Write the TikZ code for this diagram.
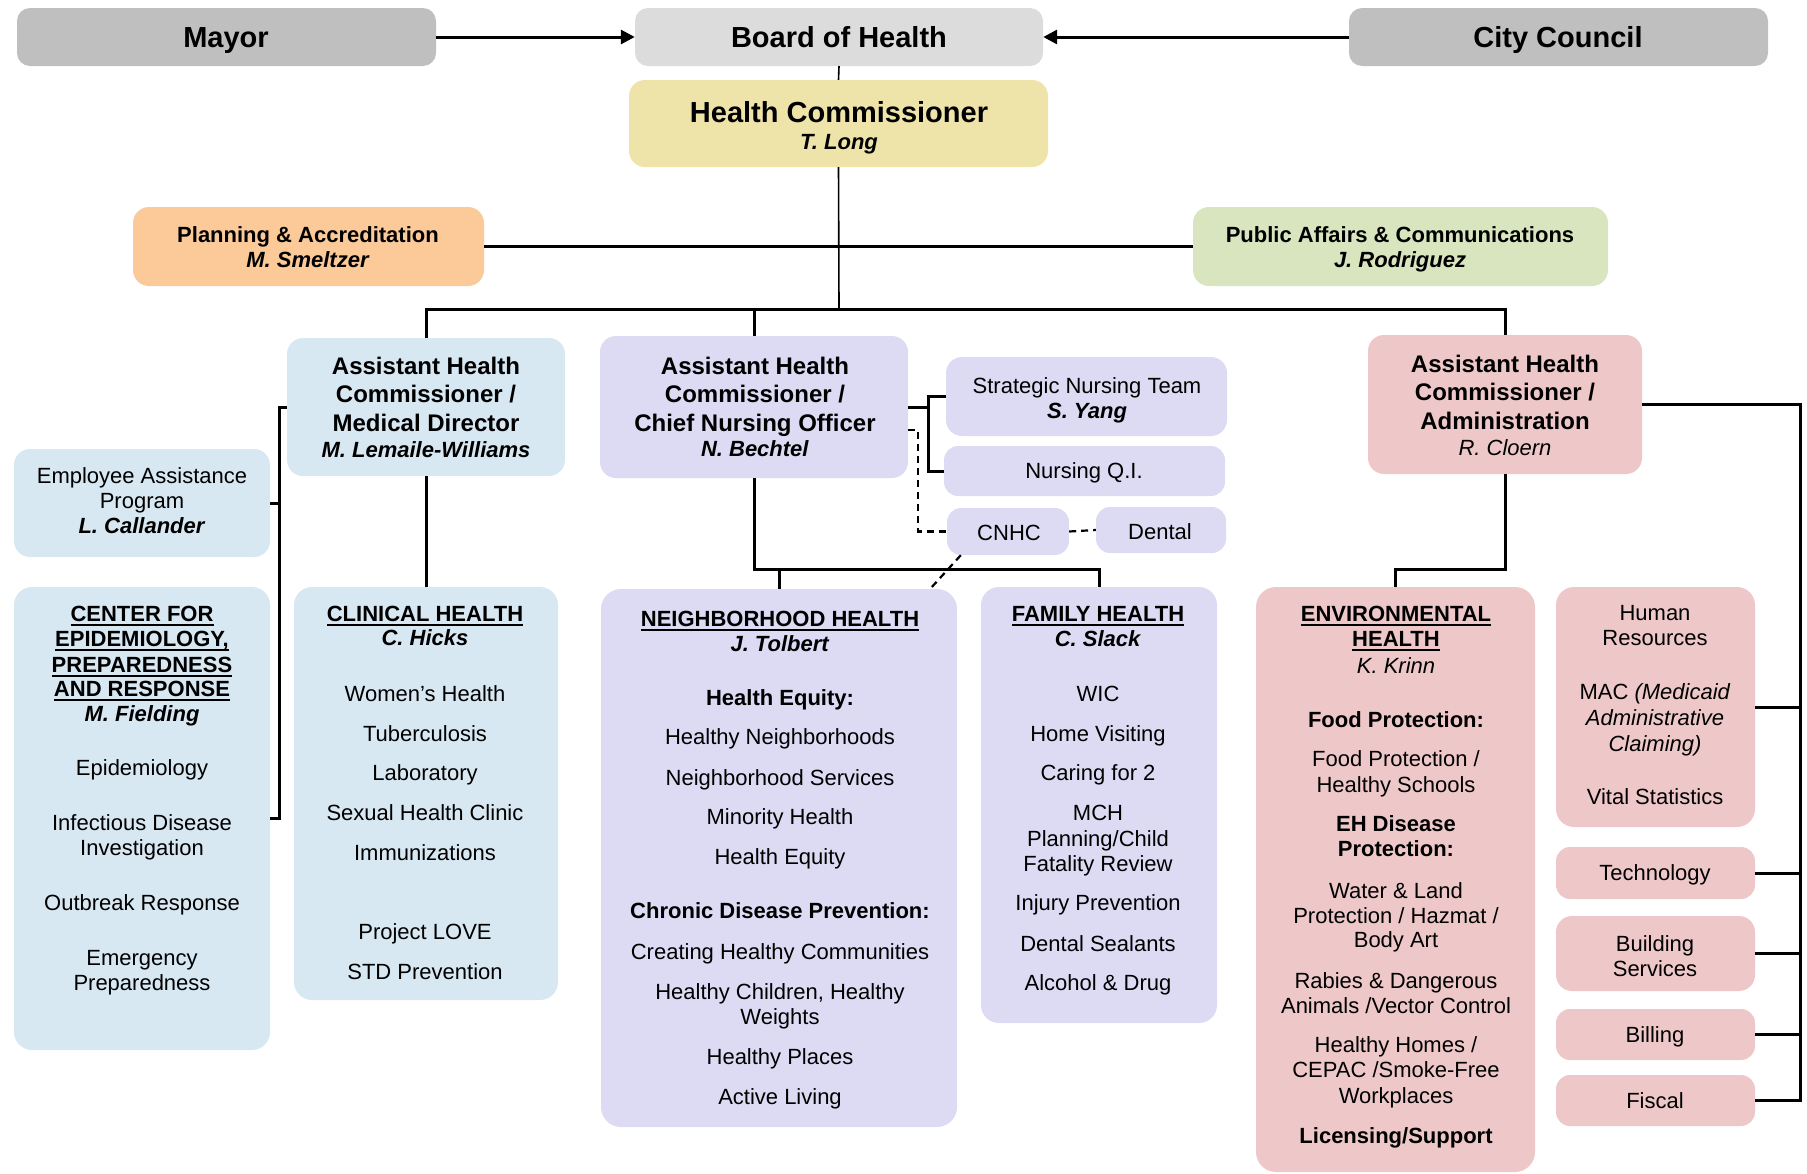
\documentclass[tikz,border=0pt]{standalone}
\usepackage{fontspec}
\setmainfont{Liberation Sans}
\usetikzlibrary{arrows.meta}
\definecolor{cgray}{HTML}{BFBFBF}
\definecolor{clgray}{HTML}{DCDCDC}
\definecolor{cyellow}{HTML}{EEE4A9}
\definecolor{corange}{HTML}{FCCA98}
\definecolor{cgreen}{HTML}{D9E5BF}
\definecolor{cblue}{HTML}{D8E8F2}
\definecolor{clav}{HTML}{DDDBF3}
\definecolor{cpink}{HTML}{EEC8C9}
\newsavebox\ulbox
\newcommand\ul[1]{\sbox\ulbox{#1}\rlap{\vrule height -2.6pt depth 4.6pt width \wd\ulbox}\usebox\ulbox}
\newcommand\bi[1]{\textbf{\textit{#1}}}
\newcommand\placelines[3]{%
  \foreach \yy/\ll [count=\ii] in {#3} {\node[tx] (#1-\ii) at (#2,\yy+8) {\ll};}}
\begin{document}
\begin{tikzpicture}[x=1pt,y=-1pt,
  box/.style={rectangle,rounded corners=16pt,draw=none,inner sep=0pt},
  tx/.style={font=\fontsize{22}{25}\selectfont,anchor=base,inner sep=0pt},
  big/.style={font=\fontsize{29}{33}\selectfont\bfseries,anchor=base,inner sep=0pt},
  mid/.style={font=\fontsize{24}{28}\selectfont\bfseries,anchor=base,inner sep=0pt},
  conn/.style={line width=3pt},
  thinconn/.style={line width=1.6pt},
  dconn/.style={line width=2.2pt,dash pattern=on 7pt off 5pt},
  arr/.style={line width=3pt,-{Triangle[length=14pt,width=14pt]}}]
\useasboundingbox (0,0) rectangle (1807,1173);
% boxes
\node[box,fill=cgray,minimum width=419pt,minimum height=58pt,rounded corners=13pt] (mayor) at (226.5,37) {};
\node[box,fill=clgray,minimum width=408pt,minimum height=58pt,rounded corners=13pt] (board) at (839,37) {};
\node[box,fill=cgray,minimum width=419pt,minimum height=58pt,rounded corners=13pt] (council) at (1558.5,37) {};
\node[box,fill=cyellow,minimum width=419pt,minimum height=87pt] (hc) at (838.5,123.5) {};
\node[box,fill=corange,minimum width=351pt,minimum height=79pt] (plan) at (308.5,246.5) {};
\node[box,fill=cgreen,minimum width=415pt,minimum height=79pt] (pub) at (1400.5,246.5) {};
\node[box,fill=cblue,minimum width=278pt,minimum height=138pt] (md) at (426,407) {};
\node[box,fill=clav,minimum width=308pt,minimum height=142pt] (cno) at (754,407) {};
\node[box,fill=cpink,minimum width=274pt,minimum height=139pt] (adm) at (1505,404.5) {};
\node[box,fill=clav,minimum width=281pt,minimum height=79pt] (snt) at (1086.5,396.5) {};
\node[box,fill=clav,minimum width=281pt,minimum height=50pt,rounded corners=14pt] (nqi) at (1084.5,471) {};
\node[box,fill=clav,minimum width=122pt,minimum height=47pt,rounded corners=14pt] (cnhc) at (1008,531.5) {};
\node[box,fill=clav,minimum width=130pt,minimum height=46pt,rounded corners=14pt] (dental) at (1161,530) {};
\node[box,fill=cblue,minimum width=256pt,minimum height=108pt] (eap) at (142,503) {};
\node[box,fill=cblue,minimum width=256pt,minimum height=463pt,rounded corners=18pt] (cepr) at (142,818.5) {};
\node[box,fill=cblue,minimum width=264pt,minimum height=413pt,rounded corners=18pt] (clin) at (426,793.5) {};
\node[box,fill=clav,minimum width=356pt,minimum height=538pt,rounded corners=20pt] (nh) at (779,858) {};
\node[box,fill=clav,minimum width=236pt,minimum height=436pt,rounded corners=18pt] (fh) at (1099,805) {};
\node[box,fill=cpink,minimum width=279pt,minimum height=585pt,rounded corners=20pt] (eh) at (1395.5,879.5) {};
\node[box,fill=cpink,minimum width=199pt,minimum height=240pt,rounded corners=18pt] (hr) at (1655.5,707) {};
\node[box,fill=cpink,minimum width=199pt,minimum height=52pt,rounded corners=14pt] (tech) at (1655.5,873) {};
\node[box,fill=cpink,minimum width=199pt,minimum height=75pt,rounded corners=16pt] (bldg) at (1655.5,953.5) {};
\node[box,fill=cpink,minimum width=199pt,minimum height=51pt,rounded corners=14pt] (bill) at (1655.5,1034.5) {};
\node[box,fill=cpink,minimum width=199pt,minimum height=51pt,rounded corners=14pt] (fisc) at (1655.5,1100.5) {};
% helper coordinates
\coordinate (j) at (839,309);
\coordinate (j2) at (0,569);
\coordinate (bk) at (279,0);
\coordinate (sn) at (928,0);
\coordinate (dv) at (918,0);
\coordinate (rv) at (1800,0);
% connectors
\draw[arr] (mayor.east) -- (board.west);
\draw[arr] (council.west) -- (board.east);
\draw[thinconn] (board.south) -- (hc.north);
\draw[thinconn] (hc.south) -- (j);
\draw[conn] (plan.east) -- (pub.west);
\draw[conn] (md.north) -- (md.north |- j) -- (adm.north |- j) -- (adm.north);
\draw[conn] (cno.north) -- (cno.north |- j);
\draw[conn] (md.west) -- (md.west -| bk) -- (bk |- cepr.east) -- (cepr.east);
\draw[conn] (eap.east) -- (eap.east -| bk);
\draw[conn] (md.south) -- (clin.north);
\draw[conn] (cno.east) -- (cno.east -| sn);
\draw[conn] (snt.west) -- (snt.west -| sn) -- (sn |- nqi.west) -- (nqi.west);
\draw[dconn] ([yshift=-23pt]cno.east) -- ([yshift=-23pt]cno.east -| dv) -- (dv |- cnhc.west) -- (cnhc.west);
\draw[dconn] (cnhc.east) -- (dental.west);
\draw[dconn] ([xshift=14pt]cnhc.south west) -- ([xshift=-27pt]nh.north east);
\draw[conn] (cno.south) -- (cno.south |- j2) -- (fh.north |- j2) -- (fh.north);
\draw[conn] (nh.north |- j2) -- (nh.north);
\draw[conn] (adm.south) -- (adm.south |- j2) -- (eh.north |- j2) -- (eh.north);
\draw[conn] (adm.east) -- (adm.east -| rv) -- (rv |- fisc.east) -- (fisc.east);
\draw[conn] (hr.east) -- (hr.east -| rv);
\draw[conn] (tech.east) -- (tech.east -| rv);
\draw[conn] (bldg.east) -- (bldg.east -| rv);
\draw[conn] (bill.east) -- (bill.east -| rv);
% texts
\node[big] (mayor-t) at (226,47) {Mayor};
\node[big] (board-t) at (839,47) {Board of Health};
\node[big] (council-t) at (1558,47) {City Council};
\node[big] (hc-t) at (839,122) {Health Commissioner};
\node[tx] (hc-n) at (839,149) {\bi{T. Long}};
\node[tx] (plan-t) at (308,242) {\textbf{Planning \& Accreditation}};
\node[tx] (plan-n) at (308,267) {\bi{M. Smeltzer}};
\node[tx] (pub-t) at (1400,242) {\textbf{Public Affairs \& Communications}};
\node[tx] (pub-n) at (1400,267) {\bi{J. Rodriguez}};
\node[mid] (md-1) at (426,374.5) {Assistant Health};
\node[mid] (md-2) at (426,402.5) {Commissioner /};
\node[mid] (md-3) at (426,431.5) {Medical Director};
\node[tx] (md-4) at (426,457) {\bi{M. Lemaile-Williams}};
\node[mid] (cno-1) at (755,374.5) {Assistant Health};
\node[mid] (cno-2) at (755,402.5) {Commissioner /};
\node[mid] (cno-3) at (755,431.5) {Chief Nursing Officer};
\node[tx] (cno-4) at (755,456) {\bi{N. Bechtel}};
\node[mid] (adm-1) at (1505,372.5) {Assistant Health};
\node[mid] (adm-2) at (1505,400.5) {Commissioner /};
\node[mid] (adm-3) at (1505,429.5) {Administration};
\node[tx] (adm-4) at (1505,455) {\textit{R. Cloern}};
\placelines{snt}{1087}{385/{Strategic Nursing Team}, 410/{\bi{S. Yang}}}
\placelines{nqi}{1084}{470/{Nursing Q.I.}}
\placelines{cnhc}{1009}{532/{CNHC}}
\placelines{dental}{1160}{531/{Dental}}
\placelines{eap}{142}{475/{Employee Assistance}, 500/{Program}, 525/{\bi{L. Callander}}}
\placelines{cepr}{142}{613/{\textbf{\ul{CENTER FOR}}}, 638/{\textbf{\ul{EPIDEMIOLOGY,}}}, 664/{\textbf{\ul{PREPAREDNESS}}}, 688/{\textbf{\ul{AND RESPONSE}}}, 713/{\bi{M. Fielding}}, 767/{Epidemiology}, 822/{Infectious Disease}, 847/{Investigation}, 902/{Outbreak Response}, 957/{Emergency}, 982/{Preparedness}}
\placelines{clin}{425}{613/{\textbf{\ul{CLINICAL HEALTH}}}, 637/{\bi{C. Hicks}}, 693/{Women’s Health}, 733/{Tuberculosis}, 772/{Laboratory}, 812/{Sexual Health Clinic}, 852/{Immunizations}, 931/{Project LOVE}, 971/{STD Prevention}}
\placelines{nh}{780}{618/{\textbf{\ul{NEIGHBORHOOD HEALTH}}}, 643/{\bi{J. Tolbert}}, 697/{\textbf{Health Equity:}}, 736/{Healthy Neighborhoods}, 777/{Neighborhood Services}, 816/{Minority Health}, 856/{Health Equity}, 910/{\textbf{Chronic Disease Prevention:}}, 951/{Creating Healthy Communities}, 991/{Healthy Children, Healthy}, 1016/{Weights}, 1056/{Healthy Places}, 1096/{Active Living}}
\placelines{fh}{1098}{613/{\textbf{\ul{FAMILY HEALTH}}}, 638/{\bi{C. Slack}}, 693/{WIC}, 733/{Home Visiting}, 772/{Caring for 2}, 812/{MCH}, 838/{Planning/Child}, 863/{Fatality Review}, 902/{Injury Prevention}, 943/{Dental Sealants}, 982/{Alcohol \& Drug}}
\placelines{eh}{1396}{613/{\textbf{\ul{ENVIRONMENTAL}}}, 638/{\textbf{\ul{HEALTH}}}, 665/{\textit{K. Krinn}}, 719/{\textbf{Food Protection:}}, 758/{Food Protection /}, 784/{Healthy Schools}, 823/{\textbf{EH Disease}}, 848/{\textbf{Protection:}}, 890/{Water \& Land}, 915/{Protection / Hazmat /}, 939/{Body Art}, 980/{Rabies \& Dangerous}, 1005/{Animals /Vector Control}, 1044/{Healthy Homes /}, 1069/{CEPAC /Smoke-Free}, 1095/{Workplaces}, 1135/{\textbf{Licensing/Support}}}
\placelines{hr}{1655}{612/{Human}, 637/{Resources}, 691/{MAC \textit{(Medicaid}}, 717/{\textit{Administrative}}, 743/{\textit{Claiming)}}, 796/{Vital Statistics}}
\placelines{tech}{1655}{872/{Technology}}
\placelines{bldg}{1655}{943/{Building}, 968/{Services}}
\placelines{bill}{1655}{1034/{Billing}}
\placelines{fisc}{1655}{1100/{Fiscal}}
\end{tikzpicture}
\end{document}
